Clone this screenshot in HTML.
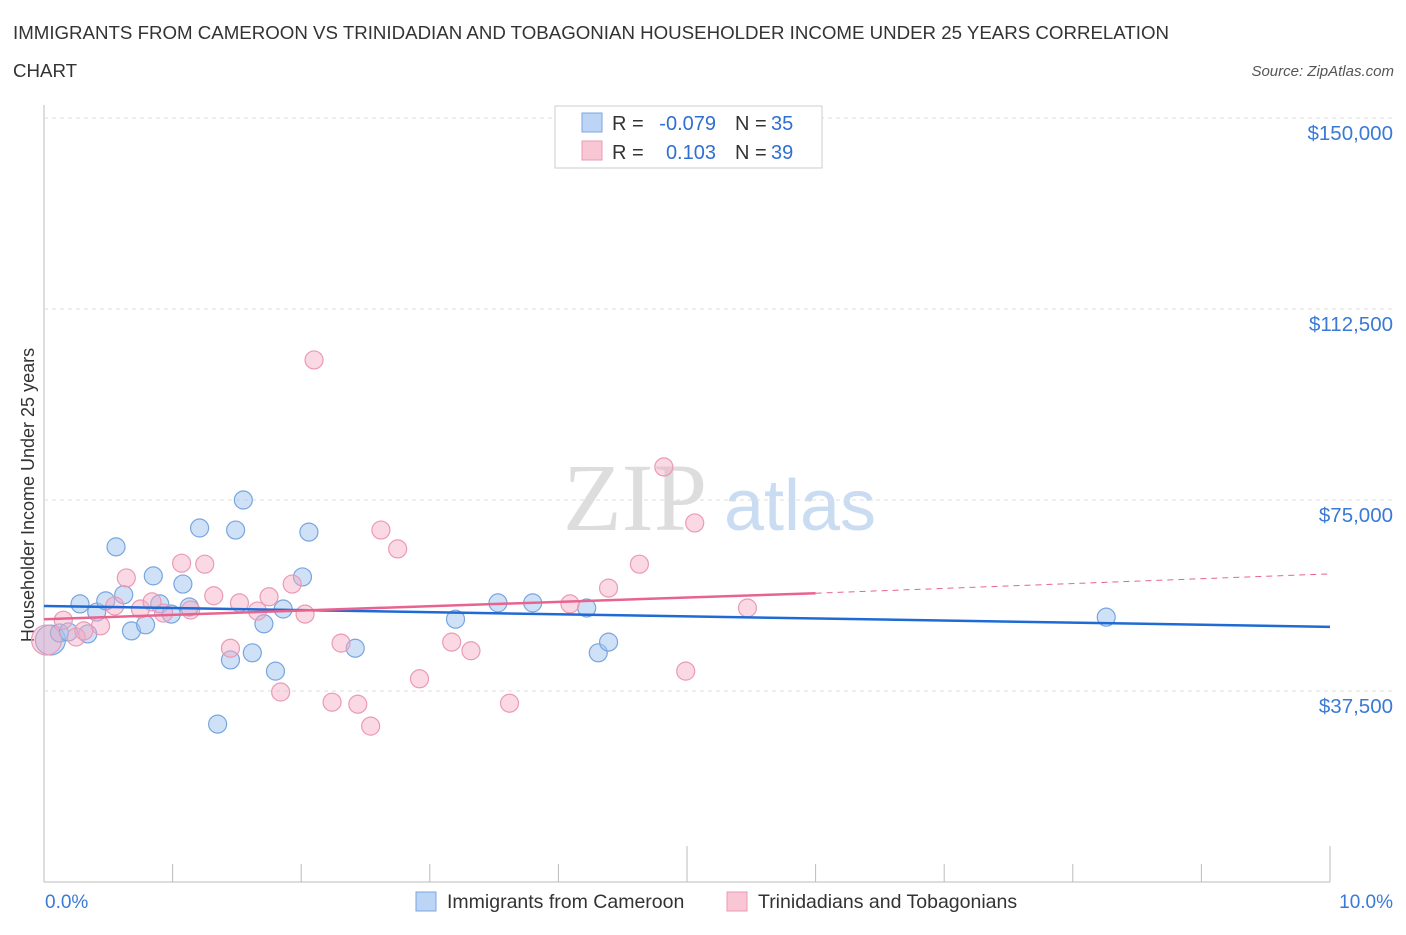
<!DOCTYPE html>
<html><head><meta charset="utf-8"><style>
body{margin:0;background:#fff;font-family:"Liberation Sans",sans-serif}
svg text{font-family:"Liberation Sans",sans-serif}
</style></head><body>
<svg id="c" width="1406" height="930">
<text x="13" y="39" font-size="18.7" fill="#333">IMMIGRANTS FROM CAMEROON VS TRINIDADIAN AND TOBAGONIAN HOUSEHOLDER INCOME UNDER 25 YEARS CORRELATION</text>
<text x="13" y="77" font-size="18.7" fill="#333">CHART</text>
<text x="1394" y="76" font-size="15" fill="#555" font-style="italic" text-anchor="end">Source: ZipAtlas.com</text>
<text x="635" y="530" font-size="96" fill="#ddd" font-family="Liberation Serif" text-anchor="middle" style="font-family:'Liberation Serif',serif">ZIP</text>
<text x="800" y="530" font-size="72" fill="#c9dcf2" text-anchor="middle">atlas</text>
<text transform="translate(34,495) rotate(-90)" font-size="18" fill="#333" text-anchor="middle">Householder Income Under 25 years</text>
<g id="grid"></g><g id="marks"></g>
<g>
<rect x="555" y="106" width="267" height="62" fill="#fff" stroke="#ccc"/>
<rect x="582" y="113" width="20" height="19" fill="#bcd4f5" stroke="#7aa6e0"/>
<rect x="582" y="141" width="20" height="19" fill="#f8c6d5" stroke="#eb9ab3"/>
<text x="612" y="130" font-size="20" fill="#333">R =</text>
<text x="716" y="130" font-size="20" fill="#2f6fd0" text-anchor="end">-0.079</text>
<text x="735" y="130" font-size="20" fill="#333">N =</text>
<text x="771" y="130" font-size="20" fill="#2f6fd0">35</text>
<text x="612" y="159" font-size="20" fill="#333">R =</text>
<text x="716" y="159" font-size="20" fill="#2f6fd0" text-anchor="end">0.103</text>
<text x="735" y="159" font-size="20" fill="#333">N =</text>
<text x="771" y="159" font-size="20" fill="#2f6fd0">39</text>
</g>
<g>
<rect x="416" y="892" width="20" height="19" fill="#bcd4f5" stroke="#7aa6e0"/>
<text x="447" y="908" font-size="19.5" fill="#333">Immigrants from Cameroon</text>
<rect x="727" y="892" width="20" height="19" fill="#f8c6d5" stroke="#eb9ab3"/>
<text x="758" y="908" font-size="19.5" fill="#333">Trinidadians and Tobagonians</text>
</g>
<text x="45" y="908" font-size="19" fill="#3a7ad5">0.0%</text>
<text x="1393" y="908" font-size="19" fill="#3a7ad5" text-anchor="end">10.0%</text>
</svg>
<script>
const yTicks=[37500,75000,112500,150000];
const yTickLabels=["$37,500","$75,000","$112,500","$150,000"];
const blueX=[.05,.12,.19,.28,.34,.41,.48,.56,.62,.68,.79,.85,.90,.99,1.08,1.13,1.21,1.35,1.45,1.49,1.55,1.62,1.71,1.80,1.86,2.01,2.06,2.42,3.20,3.53,3.80,4.22,4.31,4.39,8.26];
const blueY=[47.5,48.9,49.1,54.6,48.7,53.0,55.2,65.8,56.4,49.3,50.5,60.1,54.6,52.6,58.5,54.0,69.5,31.0,43.6,69.1,75.0,45.0,50.7,41.4,53.6,59.9,68.7,45.9,51.6,54.8,54.8,53.8,45.0,47.1,52.0];
const pinkX=[.02,.15,.25,.31,.44,.55,.64,.75,.84,.93,1.07,1.14,1.25,1.32,1.45,1.52,1.66,1.75,1.84,1.93,2.03,2.10,2.24,2.31,2.44,2.54,2.62,2.75,2.92,3.17,3.32,3.62,4.09,4.39,4.63,4.82,4.99,5.06,5.47];
const pinkY=[47.5,51.4,48.1,49.3,50.3,54.2,59.7,53.6,55.0,52.8,62.6,53.4,62.4,56.2,45.9,54.8,53.2,56.0,37.3,58.5,52.6,102.5,35.3,46.9,34.9,30.6,69.1,65.4,39.9,47.1,45.4,35.1,54.6,57.7,62.4,81.5,41.4,70.5,53.8];
const blueTrend=[54.2,50.1];
const pinkTrend=[51.6,56.7,60.5];
const X=v=>44+v*128.6, Y=v=>882-v*1000/196.34;
const NS="http://www.w3.org/2000/svg";
function mk(p,t,a){const e=document.createElementNS(NS,t);for(const k in a)e.setAttribute(k,a[k]);p.appendChild(e);return e;}
const g=document.getElementById('grid'),m=document.getElementById('marks');
mk(g,'line',{x1:44,y1:105,x2:44,y2:882,stroke:'#bbb'});
mk(g,'line',{x1:44,y1:882,x2:1330,y2:882,stroke:'#bbb'});
mk(g,'line',{x1:44,y1:118,x2:1394,y2:118,stroke:'#ddd','stroke-dasharray':'4,4'});
for(let i=0;i<=10;i++){const t=mk(g,'line',{x1:X(i),y1:i%5==0?846:864,x2:X(i),y2:882,stroke:'#bbb'});

}
yTicks.forEach((v,i)=>{const y=Y(v/1000);
const l=mk(g,'line',{x1:44,y1:y,x2:1394,y2:y,stroke:'#ddd','stroke-dasharray':'4,4'});


const t=mk(g,'text',{x:1393,y:y+22,'font-size':20.5,fill:'#3a7ad5','text-anchor':'end'});t.textContent=yTickLabels[i];

});
function pts(xs,ys,fill,stroke,name){xs.forEach((x,i)=>{const c=mk(m,'circle',{cx:X(x),cy:Y(ys[i]),r:i==0?15:9,fill:fill,stroke:stroke,'stroke-width':1.2});

});}
pts(blueX,blueY,'rgba(160,195,240,0.5)','#78a5e0','cameroon-point');
pts(pinkX,pinkY,'rgba(244,170,195,0.45)','#eb9ab3','trinidad-point');
const bl=mk(m,'line',{x1:X(0),y1:Y(blueTrend[0]),x2:X(10),y2:Y(blueTrend[1]),stroke:'#1f6ad4','stroke-width':2.5});


const pl=mk(m,'line',{x1:X(0),y1:Y(pinkTrend[0]),x2:X(6),y2:Y(pinkTrend[1]),stroke:'#e8648e','stroke-width':2.5});


const pd=mk(m,'line',{x1:X(6),y1:Y(pinkTrend[1]),x2:X(10),y2:Y(pinkTrend[2]),stroke:'#e8648e','stroke-width':1,'stroke-dasharray':'6,5'});


</script>
</body></html>
